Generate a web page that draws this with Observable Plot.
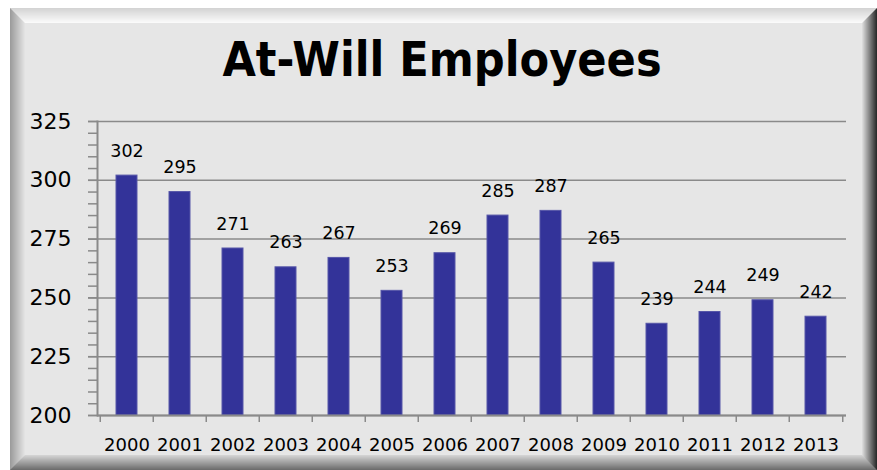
<!DOCTYPE html>
<html>
<head>
<meta charset="utf-8">
<script src="https://cdn.jsdelivr.net/npm/d3@7"></script>
<script src="https://cdn.jsdelivr.net/npm/@observablehq/plot@0.6"></script>
<style>
  html, body { margin: 0; padding: 0; background: #ffffff; }
  #wrap { position: relative; width: 877px; height: 470px; overflow: hidden; }
  #frame { position: absolute; left: 10px; top: 8px; width: 867px; height: 462px; box-sizing: border-box; }
  #title { position: absolute; left: 0; width: 884px; top: 35px; text-align: center;
    font-family: "DejaVu Sans", sans-serif; font-stretch: condensed; font-weight: bold; font-size: 48px; color: #000; line-height: 1; }
  #chart { position: absolute; left: 0; top: 0; }
</style>
</head>
<body>
<div id="wrap">
  <div id="frame"></div>
  <div id="title">At-Will Employees</div>
  <div id="chart"></div>
</div>
<script>
const years = ["2000","2001","2002","2003","2004","2005","2006","2007","2008","2009","2010","2011","2012","2013"];
const employees = [302, 295, 271, 263, 267, 253, 269, 285, 287, 265, 239, 244, 249, 242];
const yTicks = [200, 225, 250, 275, 300, 325];
const yMinorTicks = d3.range(200, 326, 5);

// bevel frame
(function bevel() {
  const n = 15;
  const sides = {
    top: [d3.rgb("#d4d4d4"), d3.rgb("#fafafa")],
    left: [d3.rgb("#9c9c9c"), d3.rgb("#e2e2e2")],
    right: [d3.rgb("#2c2c2c"), d3.rgb("#dadada")],
    bottom: [d3.rgb("#6e6e6e"), d3.rgb("#d2d2d2")]
  };
  let parent = document.getElementById("frame");
  for (let i = 0; i < n; i++) {
    const t = i / (n - 1);
    const d = document.createElement("div");
    d.style.boxSizing = "border-box";
    d.style.width = "100%";
    d.style.height = "100%";
    d.style.borderStyle = "solid";
    d.style.borderWidth = "1px";
    for (const s of ["top", "left", "right", "bottom"]) {
      d.style["border" + s[0].toUpperCase() + s.slice(1) + "Color"] = d3.interpolateRgb(sides[s][0], sides[s][1])(t);
    }
    if (i === n - 1) d.style.background = "#e6e6e6";
    parent.appendChild(d);
    parent = d;
  }
})();

const W = 877, H = 470;
const mL = 97, mR = 31, mT = 121, mB = 55;
const step = (W - mL - mR) / years.length;
const data = years.map((y, i) => ({year: y, value: employees[i]}));

const chart = Plot.plot({
  width: W,
  height: H,
  marginLeft: mL,
  marginRight: mR,
  marginTop: mT,
  marginBottom: mB,
  style: {background: "transparent", fontFamily: "DejaVu Sans, sans-serif", color: "#000"},
  x: {type: "band", domain: years, paddingInner: 0.6, paddingOuter: 0.3, label: null},
  y: {domain: [200, 325], label: null},
  marks: [
    Plot.gridY(yTicks, {stroke: "#8a8a8a", strokeOpacity: 1, strokeWidth: 1.5}),
    Plot.barY(data, {x: "year", y1: 200, y2: "value", fill: "#333399", stroke: "#5656a8", strokeWidth: 1}),
    Plot.ruleY([200], {stroke: "#8a8a8a", strokeWidth: 2}),
    Plot.frame({anchor: "left", stroke: "#8a8a8a", strokeWidth: 2}),
    Plot.axisY(yMinorTicks, {tickSize: 9, tickFormat: () => "", stroke: "#8a8a8a", strokeWidth: 1.5, label: null}),
    Plot.axisY(yTicks, {tickSize: 9, tickPadding: 17, fontSize: 22, stroke: "#8a8a8a", strokeWidth: 1.5, label: null}),
    Plot.axisX(years, {tickSize: 7, dx: -step / 2, tickFormat: () => "", stroke: "#8a8a8a", strokeWidth: 1.5, label: null}),
    Plot.axisX([years[years.length - 1]], {tickSize: 7, dx: step / 2, tickFormat: () => "", stroke: "#8a8a8a", strokeWidth: 1.5, label: null}),
    Plot.axisX(years, {tickSize: 0, tickPadding: 23, fontSize: 18, label: null}),
    Plot.text(data, {x: "year", y: "value", text: d => String(d.value), lineAnchor: "bottom", dy: -19, fontSize: 17.5, fill: "#000"})
  ]
});
document.getElementById("chart").appendChild(chart);
</script>
</body>
</html>
